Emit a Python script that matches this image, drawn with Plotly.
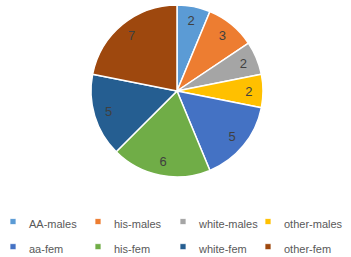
import plotly.graph_objects as go

labels = ["AA-males", "his-males", "white-males", "other-males",
          "aa-fem", "his-fem", "white-fem", "other-fem"]
values = [2, 3, 2, 2, 5, 6, 5, 7]
colors = ["#5B9BD5", "#ED7D31", "#A5A5A5", "#FFC000",
          "#4472C4", "#70AD47", "#255E91", "#9E480E"]

W, H = 351, 257
B = 60                     # bottom margin reserved for the legend
PH = H - B                 # plot-area height
cx, cy, r = 177, 91, 86    # pie centre / radius in pixels from top-left
domain = dict(x=[(cx - r) / W, (cx + r) / W], y=[(PH - cy - r) / PH, (PH - cy + r) / PH])

# legend rows are taller than the text in the reference: larger legend font, smaller text span
legend_labels = [f"<span style='font-size:11px'>{t}</span>" for t in labels]

fig = go.Figure()
# coloured slices
fig.add_trace(go.Pie(
    labels=legend_labels, values=values, sort=False, direction="clockwise",
    rotation=0, domain=domain,
    marker=dict(colors=colors, line=dict(color="white", width=1.5)),
    textinfo="none",
    hovertemplate="%{label}: %{value}<extra></extra>",
))
# transparent ring carrying the value labels near the rim (like Excel's best-fit labels)
fig.add_trace(go.Pie(
    labels=legend_labels, values=values, sort=False, direction="clockwise",
    rotation=0, domain=domain, hole=0.66, showlegend=False,
    marker=dict(colors=["rgba(0,0,0,0)"] * len(values), line=dict(width=0)),
    textinfo="value", textposition="inside", insidetextorientation="horizontal",
    textfont=dict(family="Liberation Sans", size=13, color="#404040"),
    hoverinfo="skip",
))

fig.update_layout(
    width=W, height=H, margin=dict(l=0, r=0, t=0, b=B, autoexpand=False),
    paper_bgcolor="white", plot_bgcolor="white",
    showlegend=True,
    legend=dict(orientation="h", x=-11 / W, y=(PH - 204) / PH, xanchor="left", yanchor="top",
                entrywidth=40, entrywidthmode="pixels",
                font=dict(family="Liberation Sans", size=17, color="#595959"),
                itemclick=False, itemdoubleclick=False),
)
fig.write_html(
    "out.html", config={"displayModeBar": False},
    post_script=("document.body.style.margin='0';"
                 "document.querySelectorAll('.legend .scrollbox').forEach(function(e){"
                 "e.removeAttribute('clip-path');});"
                 "document.querySelectorAll('.legend path.legendpie').forEach(function(e){"
                 "e.setAttribute('transform','translate(24,0) scale(0.5)');});"),
)
